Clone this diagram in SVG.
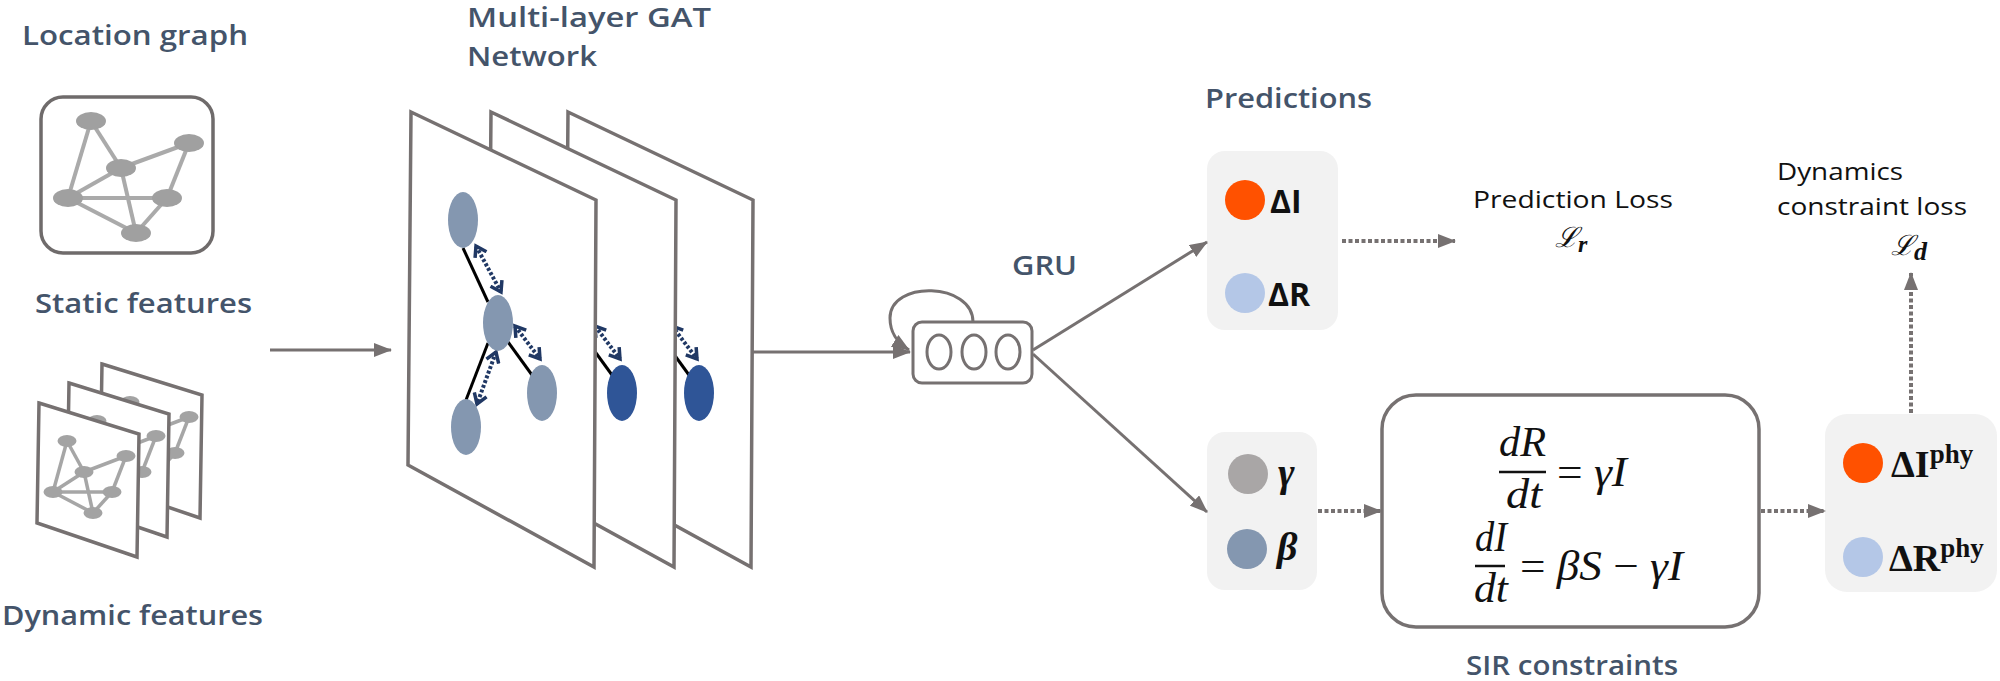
<svg xmlns="http://www.w3.org/2000/svg" xmlns:xlink="http://www.w3.org/1999/xlink" width="2000" height="681" viewBox="0 0 2000 681">
<style>
.lbl{font-family:"Open Sans","Noto Sans",sans-serif;font-weight:600;font-size:27px;fill:#44546a}
.blk{font-family:"Open Sans","Noto Sans",sans-serif;font-weight:500;font-size:24px;fill:#111}
.math{font-family:"Liberation Serif","DejaVu Serif",serif;font-style:italic;font-size:42px;fill:#111}
.frame{fill:#fff;stroke:#767171;stroke-width:3.5;stroke-linejoin:miter}
.gedge{stroke:#a6a6a6;stroke-width:3.5;fill:none}
.gnode{fill:#a3a3a3}
.arr{stroke:#767171;stroke-width:3;fill:none}
.dot{stroke:#767171;stroke-width:4;fill:none;stroke-dasharray:4 2.5}
.nav{stroke:#203864;stroke-width:4;fill:none;stroke-dasharray:3 2}
.panel{fill:#f2f2f2}
</style>
<defs>
<marker id="ah" markerUnits="userSpaceOnUse" markerWidth="18" markerHeight="14" refX="17" refY="7" orient="auto">
<path d="M0,0 L18,7 L0,14 z" fill="#767171"/>
</marker>
<marker id="nh" markerUnits="userSpaceOnUse" markerWidth="14" markerHeight="16" refX="11" refY="8" orient="auto-start-reverse">
<path d="M1,1.5 L11,8 L1,14.5" fill="none" stroke="#203864" stroke-width="3.5"/>
</marker>
<g id="dgraph">
<g class="gedge">
<line x1="67" y1="441" x2="53" y2="492"/>
<line x1="67" y1="441" x2="84" y2="472"/>
<line x1="84" y1="472" x2="126" y2="456"/>
<line x1="84" y1="472" x2="53" y2="492"/>
<line x1="84" y1="472" x2="93" y2="513"/>
<line x1="126" y1="456" x2="112" y2="492"/>
<line x1="53" y1="492" x2="112" y2="492"/>
<line x1="53" y1="492" x2="93" y2="513"/>
<line x1="112" y1="492" x2="93" y2="513"/>
</g>
<g class="gnode">
<ellipse cx="67" cy="441" rx="9.5" ry="6"/>
<ellipse cx="126" cy="456" rx="9.5" ry="6"/>
<ellipse cx="84" cy="472" rx="9.5" ry="6"/>
<ellipse cx="53" cy="492" rx="9.5" ry="6"/>
<ellipse cx="112" cy="492" rx="9.5" ry="6"/>
<ellipse cx="93" cy="513" rx="9.5" ry="6"/>
</g>
</g>
<g id="gatgraph">
<line x1="463" y1="248" x2="488" y2="302" stroke="#000" stroke-width="3"/>
<line x1="508" y1="342" x2="532" y2="375" stroke="#000" stroke-width="3"/>
<line x1="488" y1="343" x2="466" y2="400" stroke="#000" stroke-width="3"/>
<line class="nav" x1="476" y1="246" x2="501" y2="292" marker-start="url(#nh)" marker-end="url(#nh)"/>
<line class="nav" x1="515" y1="326" x2="540" y2="359" marker-start="url(#nh)" marker-end="url(#nh)"/>
<line class="nav" x1="496" y1="352" x2="477" y2="404" marker-start="url(#nh)" marker-end="url(#nh)"/>
</g>
</defs>

<g id="location-graph">
<text class="lbl" x="22" y="45" textLength="226" lengthAdjust="spacingAndGlyphs">Location graph</text>
<rect x="41" y="97" width="172" height="156" rx="22" fill="#fff" stroke="#6f6b6b" stroke-width="3.5"/>
<g stroke="#aaaaaa" stroke-width="4" fill="none">
<line x1="91" y1="121" x2="68" y2="198"/>
<line x1="91" y1="121" x2="121" y2="168"/>
<line x1="121" y1="168" x2="189" y2="143"/>
<line x1="121" y1="168" x2="68" y2="198"/>
<line x1="121" y1="168" x2="136" y2="233"/>
<line x1="189" y1="143" x2="167" y2="198"/>
<line x1="68" y1="198" x2="167" y2="198"/>
<line x1="68" y1="198" x2="136" y2="233"/>
<line x1="167" y1="198" x2="136" y2="233"/>
</g>
<g fill="#a0a0a0">
<ellipse cx="91" cy="121" rx="15" ry="9"/>
<ellipse cx="189" cy="143" rx="15" ry="9"/>
<ellipse cx="121" cy="168" rx="15" ry="9"/>
<ellipse cx="68" cy="198" rx="15" ry="9"/>
<ellipse cx="167" cy="198" rx="15" ry="9"/>
<ellipse cx="136" cy="233" rx="15" ry="9"/>
</g>
<text class="lbl" x="35" y="313" textLength="217" lengthAdjust="spacingAndGlyphs">Static features</text>
</g>

<g id="dynamic-features">
<g transform="translate(63,-39)">
<polygon class="frame" points="39,403 139,434 137,557 37,523"/>
<use xlink:href="#dgraph"/>
</g>
<g transform="translate(30,-20)">
<polygon class="frame" points="39,403 139,434 137,557 37,523"/>
<use xlink:href="#dgraph"/>
</g>
<polygon class="frame" points="39,403 139,434 137,557 37,523"/>
<use xlink:href="#dgraph"/>
<text class="lbl" x="2" y="625" textLength="261" lengthAdjust="spacingAndGlyphs">Dynamic features</text>
</g>

<g id="gat-network">
<text class="lbl" x="467" y="27" textLength="244" lengthAdjust="spacingAndGlyphs">Multi-layer GAT</text>
<text class="lbl" x="467" y="66" textLength="130" lengthAdjust="spacingAndGlyphs">Network</text>
<g transform="translate(157,0)">
<polygon class="frame" points="411,112 596,200 594,567 408,465"/>
<use xlink:href="#gatgraph"/>
<ellipse cx="542" cy="393" rx="15" ry="28" fill="#2f5597"/>
</g>
<g transform="translate(80,0)">
<polygon class="frame" points="411,112 596,200 594,567 408,465"/>
<use xlink:href="#gatgraph"/>
<ellipse cx="542" cy="393" rx="15" ry="28" fill="#2f5597"/>
</g>
<polygon class="frame" points="411,112 596,200 594,567 408,465"/>
<use xlink:href="#gatgraph"/>
<g fill="#8497b0">
<ellipse cx="463" cy="220" rx="15" ry="28"/>
<ellipse cx="498" cy="323" rx="15" ry="28"/>
<ellipse cx="542" cy="393" rx="15" ry="28"/>
<ellipse cx="466" cy="427" rx="15" ry="28"/>
</g>
</g>

<g id="gru">
<text class="lbl" x="1012" y="275" textLength="65" lengthAdjust="spacingAndGlyphs">GRU</text>
<rect x="913" y="322" width="119" height="61" rx="9" fill="#fff" stroke="#767171" stroke-width="3"/>
<g fill="none" stroke="#767171" stroke-width="3">
<ellipse cx="939" cy="352" rx="12" ry="17"/>
<ellipse cx="974" cy="352" rx="12" ry="17"/>
<ellipse cx="1008" cy="352" rx="12" ry="17"/>
</g>
</g>

<g id="predictions">
<text class="lbl" x="1205" y="108" textLength="167" lengthAdjust="spacingAndGlyphs">Predictions</text>
<rect class="panel" x="1207" y="151" width="131" height="179" rx="18"/>
<circle cx="1245" cy="200" r="20" fill="#ff5100"/>
<circle cx="1245" cy="293" r="20" fill="#b4c7e7"/>
<text x="1270" y="213" font-family="Open Sans, Noto Sans, sans-serif" font-weight="700" font-size="32" fill="#111">ΔI</text>
<text x="1268" y="306" font-family="Open Sans, Noto Sans, sans-serif" font-weight="700" font-size="32" fill="#111">ΔR</text>
</g>

<g id="prediction-loss">
<text class="blk" x="1473" y="208" textLength="200" lengthAdjust="spacingAndGlyphs">Prediction Loss</text>
<text x="1555" y="247" font-family="DejaVu Serif, Liberation Serif, serif" font-style="italic" font-size="28" fill="#111">ℒ<tspan font-family="Liberation Serif, serif" font-weight="700" font-size="24" dy="5">r</tspan></text>
</g>

<g id="parameters">
<rect class="panel" x="1207" y="432" width="110" height="158" rx="18"/>
<circle cx="1248" cy="474" r="20" fill="#a9a6a6"/>
<circle cx="1247" cy="549" r="20" fill="#8497b0"/>
<text x="1278" y="486" font-family="Liberation Serif, serif" font-weight="700" font-style="italic" font-size="40" fill="#111">γ</text>
<text x="1277" y="560" font-family="Liberation Serif, serif" font-weight="700" font-style="italic" font-size="40" fill="#111">β</text>
</g>

<g id="sir-constraints">
<rect x="1382" y="395" width="377" height="232" rx="34" fill="#fff" stroke="#767171" stroke-width="3.5"/>
<text class="math" x="1499" y="456" textLength="47" lengthAdjust="spacingAndGlyphs">dR</text>
<line x1="1499" y1="472" x2="1546" y2="472" stroke="#111" stroke-width="2.5"/>
<text class="math" x="1506" y="508" textLength="36" lengthAdjust="spacingAndGlyphs">dt</text>
<text class="math" x="1557" y="486" textLength="70" lengthAdjust="spacingAndGlyphs"><tspan font-style="normal">=</tspan> γI</text>
<text class="math" x="1475" y="551" textLength="32" lengthAdjust="spacingAndGlyphs">dI</text>
<line x1="1475" y1="566" x2="1505" y2="566" stroke="#111" stroke-width="2.5"/>
<text class="math" x="1474" y="602" textLength="34" lengthAdjust="spacingAndGlyphs">dt</text>
<text class="math" x="1520" y="580" textLength="163" lengthAdjust="spacingAndGlyphs"><tspan font-style="normal">=</tspan> βS <tspan font-style="normal">−</tspan> γI</text>
<text class="lbl" x="1466" y="675" textLength="212" lengthAdjust="spacingAndGlyphs">SIR constraints</text>
</g>

<g id="physics-outputs">
<rect class="panel" x="1825" y="414" width="172" height="178" rx="22"/>
<circle cx="1863" cy="463" r="20" fill="#ff5100"/>
<circle cx="1863" cy="557" r="20" fill="#b4c7e7"/>
<text x="1891" y="477" font-family="Liberation Serif, serif" font-weight="700" font-size="38" fill="#111">ΔI<tspan font-size="27" dy="-14">phy</tspan></text>
<text x="1889" y="571" font-family="Liberation Serif, serif" font-weight="700" font-size="38" fill="#111">ΔR<tspan font-size="27" dy="-14">phy</tspan></text>
</g>

<g id="dynamics-loss">
<text class="blk" x="1777" y="180" textLength="126" lengthAdjust="spacingAndGlyphs">Dynamics</text>
<text class="blk" x="1777" y="215" textLength="190" lengthAdjust="spacingAndGlyphs">constraint loss</text>
<text x="1891" y="255" font-family="DejaVu Serif, Liberation Serif, serif" font-style="italic" font-size="28" fill="#111">ℒ<tspan font-family="Liberation Serif, serif" font-weight="700" font-size="26" dy="5">d</tspan></text>
</g>

<g id="connectors">
<line class="arr" x1="270" y1="350" x2="391" y2="350" marker-end="url(#ah)"/>
<line class="arr" x1="753" y1="352" x2="910" y2="352" marker-end="url(#ah)"/>
<path class="arr" d="M973,322 C973,282 890,280 890,318 C890,334 898,343 909,350" marker-end="url(#ah)"/>
<line class="arr" x1="1033" y1="350" x2="1207" y2="242" marker-end="url(#ah)"/>
<line class="arr" x1="1033" y1="354" x2="1207" y2="512" marker-end="url(#ah)"/>
<line class="dot" x1="1342" y1="241" x2="1455" y2="241" marker-end="url(#ah)"/>
<line class="dot" x1="1318" y1="511" x2="1381" y2="511" marker-end="url(#ah)"/>
<line class="dot" x1="1761" y1="511" x2="1825" y2="511" marker-end="url(#ah)"/>
<line class="dot" x1="1911" y1="413" x2="1911" y2="273" marker-end="url(#ah)"/>
</g>
</svg>
